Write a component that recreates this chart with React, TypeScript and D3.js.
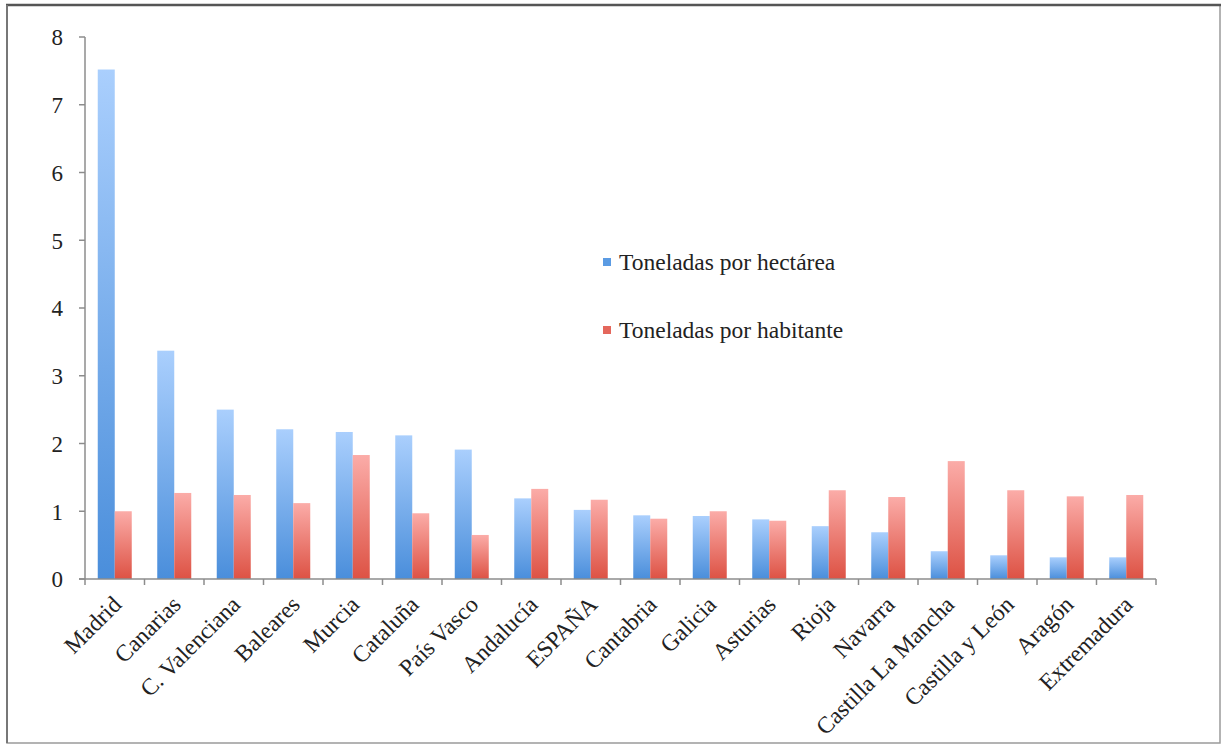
import React from "react";
import * as d3 from "d3";

const regions = [
  "Madrid", "Canarias", "C. Valenciana", "Baleares", "Murcia", "Cataluña",
  "País Vasco", "Andalucía", "ESPAÑA", "Cantabria", "Galicia", "Asturias",
  "Rioja", "Navarra", "Castilla La Mancha", "Castilla y León", "Aragón", "Extremadura",
];
const perHectare = [7.52, 3.37, 2.5, 2.21, 2.17, 2.12, 1.91, 1.19, 1.02, 0.94, 0.93, 0.88, 0.78, 0.69, 0.41, 0.35, 0.32, 0.32];
const perInhabitant = [1.0, 1.27, 1.24, 1.12, 1.83, 0.97, 0.65, 1.33, 1.17, 0.89, 1.0, 0.86, 1.31, 1.21, 1.74, 1.31, 1.22, 1.24];
const yTicks = [0, 1, 2, 3, 4, 5, 6, 7, 8];
const seriesNames = ["Toneladas por hectárea", "Toneladas por habitante"];

const W = 1223;
const H = 745;
const left = 85;
const right = 1156;
const top = 37;
const bottom = 579;
const FONT = "'Liberation Serif', 'Times New Roman', Tinos, 'DejaVu Serif', serif";

export default function App() {
  const x = d3.scaleBand<string>().domain(regions).range([left, right]).padding(0);
  const y = d3.scaleLinear().domain([0, 8]).range([bottom, top]);
  const barW = 17;
  const series = [
    { name: seriesNames[0], values: perHectare, fill: "url(#gBlue)", key: "#5b9be3" },
    { name: seriesNames[1], values: perInhabitant, fill: "url(#gRed)", key: "#e4675c" },
  ];
  const boundaries = d3.range(regions.length + 1).map((i) => left + i * x.bandwidth());

  return (
    <svg width={W} height={H} style={{ position: "absolute", left: 0, top: 0, background: "#fff" }}>
      <defs>
        <linearGradient id="gBlue" x1="0" y1="0" x2="0" y2="1">
          <stop offset="0" stopColor="#aacffd" />
          <stop offset="1" stopColor="#4a8edb" />
        </linearGradient>
        <linearGradient id="gRed" x1="0" y1="0" x2="0" y2="1">
          <stop offset="0" stopColor="#fbaca8" />
          <stop offset="1" stopColor="#dd5244" />
        </linearGradient>
      </defs>

      {/* frame */}
      <rect x={7} y={5} width={1213} height={738} fill="none" stroke="#9a9a9a" strokeWidth={1.5} />
      <line x1={6} x2={1221} y1={5} y2={5} stroke="#555" strokeWidth={2.5} />
      <line x1={7} x2={7} y1={5} y2={743} stroke="#777" strokeWidth={2} />

      {/* bars */}
      {series.map((s, si) =>
        regions.map((r, i) => {
          const cx = (x(r) as number) + x.bandwidth() / 2;
          const x0 = cx - barW + si * barW;
          return (
            <rect
              key={`${si}-${r}`}
              x={x0}
              y={y(s.values[i])}
              width={barW}
              height={y(0) - y(s.values[i])}
              fill={s.fill}
            />
          );
        })
      )}

      {/* y axis */}
      <line x1={left} x2={left} y1={top} y2={bottom} stroke="#8c8c8c" strokeWidth={1.5} />
      {yTicks.map((t) => (
        <g key={t}>
          <line x1={left - 6} x2={left} y1={y(t)} y2={y(t)} stroke="#8c8c8c" strokeWidth={1.5} />
          <text x={63} y={y(t)} dy="0.36em" textAnchor="end" fontFamily={FONT} fontSize={23} fill="#222">
            {t}
          </text>
        </g>
      ))}

      {/* x axis */}
      <line x1={left - 6} x2={right} y1={bottom} y2={bottom} stroke="#8c8c8c" strokeWidth={1.5} />
      {boundaries.map((bx, i) => (
        <line key={i} x1={bx} x2={bx} y1={bottom} y2={bottom + 6} stroke="#8c8c8c" strokeWidth={1.5} />
      ))}
      {regions.map((r) => {
        const cx = (x(r) as number) + x.bandwidth() / 2;
        return (
          <text
            key={r}
            transform={`translate(${cx + 8},${bottom + 27}) rotate(-45)`}
            textAnchor="end"
            fontFamily={FONT}
            fontSize={23.5}
            fill="#222"
          >
            {r}
          </text>
        );
      })}

      {/* legend */}
      {series.map((s, i) => (
        <g key={s.name} transform={`translate(603,${262 + i * 68})`}>
          <rect x={0} y={-4} width={8} height={8} fill={s.key} />
          <text x={16} y={0} dy="0.35em" fontFamily={FONT} fontSize={23.5} fill="#222">
            {s.name}
          </text>
        </g>
      ))}
    </svg>
  );
}
